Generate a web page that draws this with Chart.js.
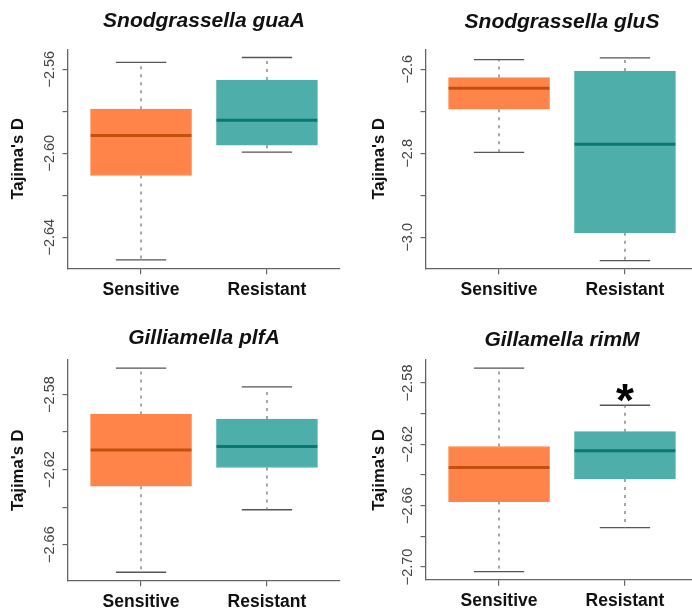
<!DOCTYPE html>
<html>
<head>
<meta charset="utf-8">
<script src="https://cdn.jsdelivr.net/npm/chart.js@4.4.0/dist/chart.umd.min.js"></script>
<style>
html, body { margin: 0; padding: 0; background: #fff; width: 692px; height: 614px; overflow: hidden; }
.panel { position: absolute; }
</style>
</head>
<body>
<div class="panel" style="left:0;top:0"><canvas id="c1" width="346" height="307"></canvas></div>
<div class="panel" style="left:346px;top:0"><canvas id="c2" width="356" height="307"></canvas></div>
<div class="panel" style="left:0;top:307px"><canvas id="c3" width="346" height="307"></canvas></div>
<div class="panel" style="left:346px;top:307px"><canvas id="c4" width="356" height="307"></canvas></div>
<script>
const groups = ['Sensitive', 'Resistant'];
const titles = ['Snodgrassella guaA', 'Snodgrassella gluS', 'Gilliamella plfA', 'Gillamella rimM'];

// five-number summaries: lower whisker, Q1, median, Q3, upper whisker
const guaASensitive = [-2.6508, -2.6106, -2.5916, -2.5790, -2.5567];
const guaAResistant = [-2.5995, -2.5962, -2.5843, -2.5651, -2.5544];
const gluSSensitive = [-2.7976, -2.6952, -2.6452, -2.6198, -2.5770];
const gluSResistant = [-3.0556, -2.9889, -2.7786, -2.6040, -2.5730];
const plfASensitive = [-2.6747, -2.6289, -2.6095, -2.5906, -2.5659];
const plfAResistant = [-2.6414, -2.6189, -2.6077, -2.5931, -2.5759];
const rimMSensitive = [-2.7030, -2.6574, -2.6352, -2.6215, -2.5704];
const rimMResistant = [-2.6744, -2.6426, -2.6243, -2.6118, -2.5946];

// y axes: tick values, tick labels (R hides every other one), axis range
const guaATicks = [-2.64, -2.62, -2.60, -2.58, -2.56];
const guaALabels = ['\u22122.64', '', '\u22122.60', '', '\u22122.56'];
const guaARange = [-2.6548, -2.5505];
const gluSTicks = [-3.0, -2.9, -2.8, -2.7, -2.6];
const gluSLabels = ['\u22123.0', '', '\u22122.8', '', '\u22122.6'];
const gluSRange = [-3.0738, -2.5524];
const plfATicks = [-2.66, -2.64, -2.62, -2.60, -2.58];
const plfALabels = ['\u22122.66', '', '\u22122.62', '', '\u22122.58'];
const plfARange = [-2.6790, -2.5616];
const rimMTicks = [-2.70, -2.68, -2.66, -2.64, -2.62, -2.60, -2.58];
const rimMLabels = ['\u22122.70', '', '\u22122.66', '', '\u22122.62', '', '\u22122.58'];
const rimMRange = [-2.7083, -2.5651];

// significance mark (only rimM, above Resistant)
const sigGroup = [null, null, null, 'Resistant'];

const fillCols = ['#FF8449', '#4EAEA9'];
const medianCols = ['#C4500F', '#0A7770'];
const FONT = '"Liberation Sans", Arial, Helvetica, sans-serif';

Chart.defaults.font.family = FONT;
Chart.defaults.devicePixelRatio = 1;

const measureCtx = document.createElement('canvas').getContext('2d');
function tickPad(labels, size, gap, tickLen) {
    measureCtx.font = size + 'px ' + FONT;
    const widest = Math.max(...labels.map((l) => measureCtx.measureText(l).width));
    return gap - tickLen - widest / 2;
}

const starPlugin = {
    id: 'sigStar',
    afterDatasetsDraw(chart, args, opts) {
        if (!opts.group) return;
        const i = groups.indexOf(opts.group);
        const x = chart.scales.x.getPixelForValue(i + 1);
        const y = chart.scales.y.getPixelForValue(opts.value);
        const ctx = chart.ctx;
        ctx.save();
        ctx.font = 'bold 46px ' + FONT;
        ctx.textAlign = 'center';
        ctx.textBaseline = 'alphabetic';
        ctx.fillStyle = '#000';
        ctx.fillText('*', x, y + 11);
        ctx.restore();
    },
};

function boxChart(id, idx, stats, yTicks, yLabels, yRange, lay) {
    const boxes = stats.map((s, i) => ({ x: i + 1, y: [s[1], s[3]] }));
    const whiskers = [];
    const caps = [];
    stats.forEach((s, i) => {
        const x = i + 1;
        whiskers.push({ x, y: s[3] }, { x, y: s[4] }, { x, y: null }, { x, y: s[1] }, { x, y: s[0] }, { x, y: null });
        caps.push({ x: x - 0.2, y: s[4] }, { x: x + 0.2, y: s[4] }, { x, y: null },
            { x: x - 0.2, y: s[0] }, { x: x + 0.2, y: s[0] }, { x, y: null });
    });
    const medians = stats.map((s, i) => ({
        type: 'line',
        data: [{ x: i + 0.6, y: s[2] }, { x: i + 1.4, y: s[2] }],
        borderColor: medianCols[i],
        borderWidth: 3,
        pointRadius: 0,
        order: 0,
    }));

    const tl = 5.5;
    const sig = sigGroup[idx];

    return new Chart(document.getElementById(id), {
        type: 'bar',
        data: {
            datasets: [
                ...medians,
                {
                    data: boxes,
                    backgroundColor: fillCols,
                    borderColor: fillCols,
                    borderWidth: 1,
                    borderSkipped: false,
                    barThickness: 101,
                    order: 1,
                },
                {
                    type: 'line', data: whiskers, borderColor: '#777', borderWidth: 1.3,
                    borderDash: [3, 5], pointRadius: 0, spanGaps: false, order: 2,
                },
                {
                    type: 'line', data: caps, borderColor: '#555', borderWidth: 1.3,
                    pointRadius: 0, spanGaps: false, order: 2,
                },
            ],
        },
        options: {
            responsive: false,
            animation: false,
            layout: { padding: { left: 0, right: lay.padRight, top: 0, bottom: 0 } },
            plugins: {
                legend: { display: false },
                tooltip: { enabled: false },
                title: {
                    display: true,
                    text: titles[idx],
                    fullSize: false,
                    color: '#111',
                    font: { size: 21, weight: 'bold', style: 'italic' },
                    padding: { top: lay.titleTop, bottom: lay.titleBottom },
                },
                sigStar: sig ? { group: sig, value: stats[groups.indexOf(sig)][4] } : {},
            },
            scales: {
                x: {
                    type: 'linear',
                    min: 0.42,
                    max: 2.58,
                    offset: false,
                    afterBuildTicks: (s) => { s.ticks = groups.map((g, i) => ({ value: i + 1 })); },
                    afterFit: (s) => { s.height = lay.xHeight; },
                    ticks: {
                        callback: (v, i) => groups[i],
                        autoSkip: false,
                        maxRotation: 0,
                        padding: 5,
                        color: '#111',
                        font: { size: 17.5, weight: 'bold' },
                    },
                    grid: { drawOnChartArea: false, offset: false, tickLength: 6, color: '#666', lineWidth: 1.2 },
                    border: { display: true, color: '#666', width: 1.3 },
                },
                y: {
                    type: 'linear',
                    min: yRange[0],
                    max: yRange[1],
                    afterBuildTicks: (s) => { s.ticks = yTicks.map((v) => ({ value: v })); },
                    afterFit: (s) => { s.width = lay.yWidth; },
                    ticks: {
                        callback: (v, i) => yLabels[i],
                        autoSkip: false,
                        minRotation: 90,
                        maxRotation: 90,
                        crossAlign: 'center',
                        padding: tickPad(yLabels, 14.5, 18, tl),
                        color: '#444',
                        font: { size: 14.5 },
                    },
                    grid: { drawOnChartArea: false, tickLength: tl, color: '#666', lineWidth: 1.2 },
                    border: { display: true, color: '#666', width: 1.3 },
                    title: {
                        display: true,
                        text: "Tajima's D",
                        color: '#111',
                        font: { size: 16.7, weight: 'bold' },
                        padding: { top: lay.yTitleX - 10, bottom: 0 },
                    },
                },
            },
        },
        plugins: [starPlugin],
    });
}

boxChart('c1', 0, [guaASensitive, guaAResistant], guaATicks, guaALabels, guaARange,
    { yWidth: 68, padRight: 6, titleTop: 8.4, titleBottom: 15.7, xHeight: 38.7, yTitleX: 18 });
boxChart('c2', 1, [gluSSensitive, gluSResistant], gluSTicks, gluSLabels, gluSRange,
    { yWidth: 80, padRight: 4, titleTop: 9.4, titleBottom: 14.7, xHeight: 38.7, yTitleX: 33 });
boxChart('c3', 2, [plfASensitive, plfAResistant], plfATicks, plfALabels, plfARange,
    { yWidth: 68, padRight: 6, titleTop: 18.7, titleBottom: 9.1, xHeight: 33.7, yTitleX: 18 });
boxChart('c4', 3, [rimMSensitive, rimMResistant], rimMTicks, rimMLabels, rimMRange,
    { yWidth: 80, padRight: 4, titleTop: 20.4, titleBottom: 7.4, xHeight: 34.3, yTitleX: 33 });
</script>
</body>
</html>
